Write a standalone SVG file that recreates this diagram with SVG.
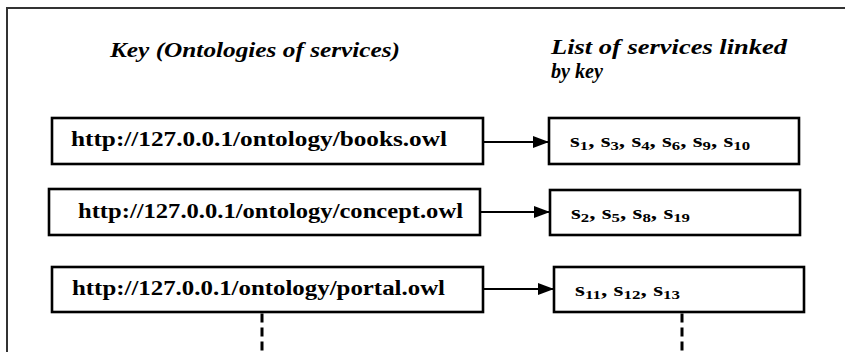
<svg xmlns="http://www.w3.org/2000/svg" width="845" height="352" viewBox="0 0 845 352">
<style>
.frame{fill:none;stroke:#333;stroke-width:2}
.box{fill:#fff;stroke:#000;stroke-width:2.6}
.url{font-family:"Liberation Serif",serif;font-weight:bold;font-size:20px;fill:#000}
.head{font-family:"Liberation Serif",serif;font-weight:bold;font-style:italic;font-size:20px;fill:#000}
.svc{font-family:"Liberation Serif",serif;font-weight:bold;font-size:18px;fill:#000}
.sub{font-size:12px}
.conn{stroke:#000;stroke-width:2.2;fill:none}
.dash{stroke:#000;stroke-width:3;stroke-dasharray:9 5;fill:none}
</style>
<defs>
<marker id="ah" markerWidth="16" markerHeight="12" refX="16" refY="6" orient="auto" markerUnits="userSpaceOnUse">
<path d="M0,0 L16,6 L0,12 Z" fill="#000"/>
</marker>
</defs>
<rect class="frame" x="7" y="8" width="900" height="400"/>
<g id="headers">
<text class="head" x="110" y="57" textLength="290" lengthAdjust="spacingAndGlyphs">Key (Ontologies of services)</text>
<text class="head" x="551" y="54" textLength="236" lengthAdjust="spacingAndGlyphs">List of services linked</text>
<text class="head" x="551" y="78" textLength="52" lengthAdjust="spacingAndGlyphs">by key</text>
</g>
<g id="key1">
<rect class="box" x="52" y="118" width="431" height="46"/>
<text class="url" x="71" y="146" textLength="376" lengthAdjust="spacingAndGlyphs">http://127.0.0.1/ontology/books.owl</text>
</g>
<g id="key2">
<rect class="box" x="49" y="189" width="431" height="46"/>
<text class="url" x="78" y="218" textLength="385" lengthAdjust="spacingAndGlyphs">http://127.0.0.1/ontology/concept.owl</text>
</g>
<g id="key3">
<rect class="box" x="52" y="267" width="431" height="45"/>
<text class="url" x="72" y="295" textLength="373" lengthAdjust="spacingAndGlyphs">http://127.0.0.1/ontology/portal.owl</text>
</g>
<g id="list1">
<rect class="box" x="549" y="118" width="250" height="46"/>
<text class="svc" x="570" y="147" textLength="180" lengthAdjust="spacingAndGlyphs">s<tspan class="sub" dy="3">1</tspan><tspan dy="-3">, s</tspan><tspan class="sub" dy="3">3</tspan><tspan dy="-3">, s</tspan><tspan class="sub" dy="3">4</tspan><tspan dy="-3">, s</tspan><tspan class="sub" dy="3">6</tspan><tspan dy="-3">, s</tspan><tspan class="sub" dy="3">9</tspan><tspan dy="-3">, s</tspan><tspan class="sub" dy="3">10</tspan></text>
</g>
<g id="list2">
<rect class="box" x="550" y="190" width="250" height="45"/>
<text class="svc" x="571" y="219" textLength="119" lengthAdjust="spacingAndGlyphs">s<tspan class="sub" dy="3">2</tspan><tspan dy="-3">, s</tspan><tspan class="sub" dy="3">5</tspan><tspan dy="-3">, s</tspan><tspan class="sub" dy="3">8</tspan><tspan dy="-3">, s</tspan><tspan class="sub" dy="3">19</tspan></text>
</g>
<g id="list3">
<rect class="box" x="554" y="267" width="250" height="45"/>
<text class="svc" x="575" y="296" textLength="105" lengthAdjust="spacingAndGlyphs">s<tspan class="sub" dy="3">11</tspan><tspan dy="-3">, s</tspan><tspan class="sub" dy="3">12</tspan><tspan dy="-3">, s</tspan><tspan class="sub" dy="3">13</tspan></text>
</g>
<g id="connectors">
<line class="conn" x1="483" y1="142" x2="549" y2="142" marker-end="url(#ah)"/>
<line class="conn" x1="480" y1="212" x2="550" y2="212" marker-end="url(#ah)"/>
<line class="conn" x1="483" y1="289" x2="554" y2="289" marker-end="url(#ah)"/>
<line class="dash" x1="262" y1="313.5" x2="262" y2="352"/>
<line class="dash" x1="682" y1="313.5" x2="682" y2="352"/>
</g>
</svg>
